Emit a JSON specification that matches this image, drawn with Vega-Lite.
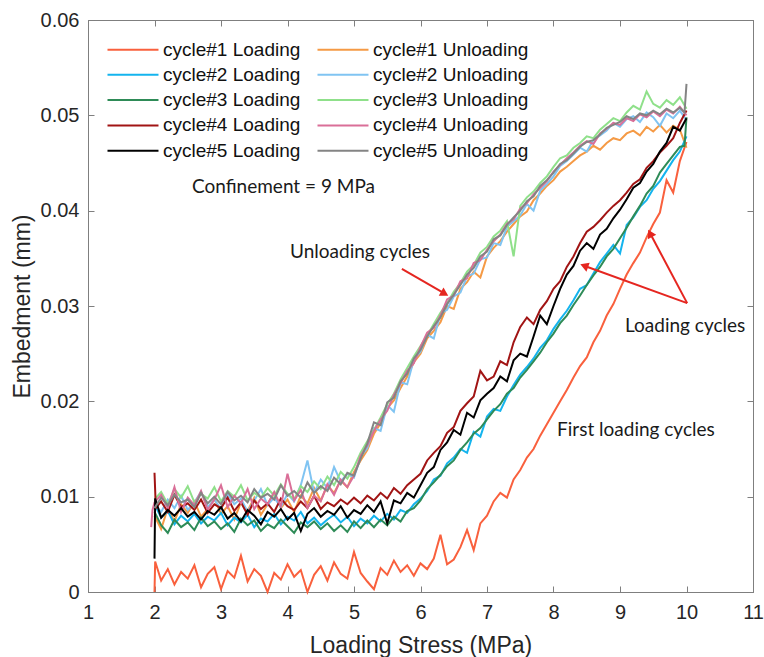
{
  "$schema": "https://vega.github.io/schema/vega-lite/v6.json",
  "width": 665,
  "height": 572,
  "autosize": {"type": "none"},
  "padding": {"left": 88, "top": 20, "right": 11, "bottom": 65},
  "background": "white",
  "config": {
    "font": "Liberation Sans",
    "view": {"stroke": "#7f7f7f", "strokeWidth": 1},
    "axis": {"labelFont": "Liberation Sans", "titleFont": "Liberation Sans", "grid": false}
  },
  "datasets": {
    "c1L": [{"x":2.0,"y":0},{"x":2.01,"y":0.0032},{"x":2.1,"y":0.0012},{"x":2.2,"y":0.0024},{"x":2.3,"y":0.0008},{"x":2.4,"y":0.0021},{"x":2.5,"y":0.0014},{"x":2.6,"y":0.0028},{"x":2.7,"y":0.0005},{"x":2.8,"y":0.0019},{"x":2.9,"y":0.0026},{"x":3.0,"y":0.0003},{"x":3.1,"y":0.0022},{"x":3.2,"y":0.0015},{"x":3.3,"y":0.0038},{"x":3.4,"y":0.0011},{"x":3.5,"y":0.0024},{"x":3.6,"y":0.0017},{"x":3.7,"y":0},{"x":3.8,"y":0.002},{"x":3.9,"y":0.0013},{"x":4.0,"y":0.0029},{"x":4.1,"y":0.0016},{"x":4.2,"y":0.0023},{"x":4.3,"y":0},{"x":4.4,"y":0.0018},{"x":4.5,"y":0.0027},{"x":4.6,"y":0.0012},{"x":4.7,"y":0.0031},{"x":4.8,"y":0.0019},{"x":4.9,"y":0.0014},{"x":5.0,"y":0.0042},{"x":5.1,"y":0.002},{"x":5.2,"y":0.0011},{"x":5.3,"y":0.0003},{"x":5.4,"y":0.0025},{"x":5.5,"y":0.0018},{"x":5.6,"y":0.0033},{"x":5.7,"y":0.0021},{"x":5.8,"y":0.0028},{"x":5.9,"y":0.0017},{"x":6.0,"y":0.003},{"x":6.1,"y":0.0024},{"x":6.2,"y":0.0035},{"x":6.3,"y":0.006},{"x":6.4,"y":0.0029},{"x":6.5,"y":0.0034},{"x":6.6,"y":0.0047},{"x":6.7,"y":0.0065},{"x":6.8,"y":0.0044},{"x":6.9,"y":0.0072},{"x":7.0,"y":0.008},{"x":7.1,"y":0.0095},{"x":7.2,"y":0.0104},{"x":7.3,"y":0.0099},{"x":7.4,"y":0.0118},{"x":7.5,"y":0.0128},{"x":7.6,"y":0.0141},{"x":7.7,"y":0.015},{"x":7.8,"y":0.0164},{"x":7.9,"y":0.0176},{"x":8.0,"y":0.0188},{"x":8.1,"y":0.02},{"x":8.2,"y":0.0212},{"x":8.3,"y":0.0225},{"x":8.4,"y":0.0237},{"x":8.5,"y":0.0246},{"x":8.6,"y":0.0262},{"x":8.7,"y":0.0274},{"x":8.8,"y":0.029},{"x":8.9,"y":0.0302},{"x":9.0,"y":0.0318},{"x":9.1,"y":0.0333},{"x":9.2,"y":0.0345},{"x":9.3,"y":0.0356},{"x":9.4,"y":0.0372},{"x":9.5,"y":0.0386},{"x":9.6,"y":0.0398},{"x":9.7,"y":0.0432},{"x":9.8,"y":0.0419},{"x":9.9,"y":0.0452},{"x":10.0,"y":0.0472}],
    "c1U": [{"x":2.0,"y":0.008},{"x":2.1,"y":0.0066},{"x":2.2,"y":0.0088},{"x":2.3,"y":0.0074},{"x":2.4,"y":0.0092},{"x":2.5,"y":0.0083},{"x":2.6,"y":0.0095},{"x":2.7,"y":0.0079},{"x":2.8,"y":0.0087},{"x":2.9,"y":0.0098},{"x":3.0,"y":0.0082},{"x":3.1,"y":0.009},{"x":3.2,"y":0.0076},{"x":3.3,"y":0.0094},{"x":3.4,"y":0.0085},{"x":3.5,"y":0.0099},{"x":3.6,"y":0.0081},{"x":3.7,"y":0.0092},{"x":3.8,"y":0.0104},{"x":3.9,"y":0.0088},{"x":4.0,"y":0.0097},{"x":4.1,"y":0.0084},{"x":4.2,"y":0.0101},{"x":4.3,"y":0.0093},{"x":4.4,"y":0.0109},{"x":4.5,"y":0.0096},{"x":4.6,"y":0.0112},{"x":4.7,"y":0.0104},{"x":4.8,"y":0.0117},{"x":4.9,"y":0.011},{"x":5.0,"y":0.0126},{"x":5.1,"y":0.0138},{"x":5.2,"y":0.0149},{"x":5.3,"y":0.0166},{"x":5.4,"y":0.0177},{"x":5.5,"y":0.0193},{"x":5.6,"y":0.0201},{"x":5.7,"y":0.0214},{"x":5.8,"y":0.0226},{"x":5.9,"y":0.0241},{"x":6.0,"y":0.025},{"x":6.1,"y":0.0266},{"x":6.2,"y":0.0274},{"x":6.3,"y":0.0283},{"x":6.4,"y":0.03},{"x":6.5,"y":0.0297},{"x":6.6,"y":0.0318},{"x":6.7,"y":0.0325},{"x":6.8,"y":0.0336},{"x":6.9,"y":0.033},{"x":7.0,"y":0.0352},{"x":7.1,"y":0.0361},{"x":7.2,"y":0.0368},{"x":7.3,"y":0.0378},{"x":7.4,"y":0.0386},{"x":7.5,"y":0.0394},{"x":7.6,"y":0.0399},{"x":7.7,"y":0.0411},{"x":7.8,"y":0.0418},{"x":7.9,"y":0.0426},{"x":8.0,"y":0.0432},{"x":8.1,"y":0.0441},{"x":8.2,"y":0.0446},{"x":8.3,"y":0.0452},{"x":8.4,"y":0.0458},{"x":8.5,"y":0.0462},{"x":8.6,"y":0.0468},{"x":8.7,"y":0.0464},{"x":8.8,"y":0.0471},{"x":8.9,"y":0.0476},{"x":9.0,"y":0.0474},{"x":9.1,"y":0.0481},{"x":9.2,"y":0.0484},{"x":9.3,"y":0.0479},{"x":9.4,"y":0.0488},{"x":9.5,"y":0.0483},{"x":9.6,"y":0.049},{"x":9.7,"y":0.0482},{"x":9.8,"y":0.0489},{"x":9.9,"y":0.0485},{"x":10.0,"y":0.0466}],
    "c2L": [{"x":2.0,"y":0.0092},{"x":2.1,"y":0.0078},{"x":2.2,"y":0.0085},{"x":2.3,"y":0.0071},{"x":2.4,"y":0.008},{"x":2.5,"y":0.0074},{"x":2.6,"y":0.0082},{"x":2.7,"y":0.0072},{"x":2.8,"y":0.0079},{"x":2.9,"y":0.0075},{"x":3.0,"y":0.0083},{"x":3.1,"y":0.007},{"x":3.2,"y":0.0078},{"x":3.3,"y":0.0073},{"x":3.4,"y":0.0081},{"x":3.5,"y":0.0068},{"x":3.6,"y":0.0077},{"x":3.7,"y":0.0074},{"x":3.8,"y":0.0082},{"x":3.9,"y":0.0071},{"x":4.0,"y":0.0079},{"x":4.1,"y":0.0075},{"x":4.2,"y":0.0084},{"x":4.3,"y":0.0072},{"x":4.4,"y":0.0078},{"x":4.5,"y":0.007},{"x":4.6,"y":0.0076},{"x":4.7,"y":0.0081},{"x":4.8,"y":0.0073},{"x":4.9,"y":0.0079},{"x":5.0,"y":0.0069},{"x":5.1,"y":0.0077},{"x":5.2,"y":0.0072},{"x":5.3,"y":0.008},{"x":5.4,"y":0.0074},{"x":5.5,"y":0.0082},{"x":5.6,"y":0.0076},{"x":5.7,"y":0.0086},{"x":5.8,"y":0.0083},{"x":5.9,"y":0.0092},{"x":6.0,"y":0.0098},{"x":6.1,"y":0.0106},{"x":6.2,"y":0.0118},{"x":6.3,"y":0.0122},{"x":6.4,"y":0.0135},{"x":6.5,"y":0.0141},{"x":6.6,"y":0.015},{"x":6.7,"y":0.0146},{"x":6.8,"y":0.0168},{"x":6.9,"y":0.0163},{"x":7.0,"y":0.0184},{"x":7.1,"y":0.0192},{"x":7.2,"y":0.019},{"x":7.3,"y":0.0205},{"x":7.4,"y":0.0217},{"x":7.5,"y":0.0228},{"x":7.6,"y":0.0236},{"x":7.7,"y":0.0245},{"x":7.8,"y":0.0256},{"x":7.9,"y":0.0264},{"x":8.0,"y":0.0276},{"x":8.1,"y":0.0286},{"x":8.2,"y":0.0295},{"x":8.3,"y":0.0306},{"x":8.4,"y":0.0318},{"x":8.5,"y":0.0322},{"x":8.6,"y":0.0334},{"x":8.7,"y":0.0346},{"x":8.8,"y":0.0355},{"x":8.9,"y":0.0364},{"x":9.0,"y":0.0355},{"x":9.1,"y":0.0385},{"x":9.2,"y":0.0393},{"x":9.3,"y":0.0404},{"x":9.4,"y":0.0411},{"x":9.5,"y":0.0423},{"x":9.6,"y":0.0431},{"x":9.7,"y":0.0442},{"x":9.8,"y":0.0453},{"x":9.9,"y":0.0462},{"x":10.0,"y":0.0478}],
    "c2U": [{"x":2.0,"y":0.0092},{"x":2.1,"y":0.0084},{"x":2.2,"y":0.0097},{"x":2.3,"y":0.0088},{"x":2.4,"y":0.0101},{"x":2.5,"y":0.0086},{"x":2.6,"y":0.0094},{"x":2.7,"y":0.0105},{"x":2.8,"y":0.0089},{"x":2.9,"y":0.0097},{"x":3.0,"y":0.0087},{"x":3.1,"y":0.0103},{"x":3.2,"y":0.0092},{"x":3.3,"y":0.0098},{"x":3.4,"y":0.0084},{"x":3.5,"y":0.0096},{"x":3.6,"y":0.0108},{"x":3.7,"y":0.0091},{"x":3.8,"y":0.0099},{"x":3.9,"y":0.0089},{"x":4.0,"y":0.0103},{"x":4.1,"y":0.0095},{"x":4.2,"y":0.0112},{"x":4.3,"y":0.0138},{"x":4.4,"y":0.0104},{"x":4.5,"y":0.0118},{"x":4.6,"y":0.0109},{"x":4.7,"y":0.0131},{"x":4.8,"y":0.0116},{"x":4.9,"y":0.0124},{"x":5.0,"y":0.012},{"x":5.1,"y":0.0142},{"x":5.2,"y":0.0151},{"x":5.3,"y":0.0172},{"x":5.4,"y":0.0169},{"x":5.5,"y":0.0196},{"x":5.6,"y":0.0189},{"x":5.7,"y":0.022},{"x":5.8,"y":0.0218},{"x":5.9,"y":0.0244},{"x":6.0,"y":0.0252},{"x":6.1,"y":0.027},{"x":6.2,"y":0.0266},{"x":6.3,"y":0.0292},{"x":6.4,"y":0.0296},{"x":6.5,"y":0.031},{"x":6.6,"y":0.0314},{"x":6.7,"y":0.0331},{"x":6.8,"y":0.0334},{"x":6.9,"y":0.0349},{"x":7.0,"y":0.0351},{"x":7.1,"y":0.0366},{"x":7.2,"y":0.0364},{"x":7.3,"y":0.0383},{"x":7.4,"y":0.0389},{"x":7.5,"y":0.0395},{"x":7.6,"y":0.0407},{"x":7.7,"y":0.04},{"x":7.8,"y":0.0421},{"x":7.9,"y":0.0428},{"x":8.0,"y":0.0436},{"x":8.1,"y":0.0447},{"x":8.2,"y":0.0452},{"x":8.3,"y":0.0459},{"x":8.4,"y":0.0466},{"x":8.5,"y":0.0462},{"x":8.6,"y":0.0474},{"x":8.7,"y":0.0479},{"x":8.8,"y":0.0484},{"x":8.9,"y":0.0492},{"x":9.0,"y":0.0488},{"x":9.1,"y":0.0496},{"x":9.2,"y":0.0499},{"x":9.3,"y":0.0493},{"x":9.4,"y":0.0503},{"x":9.5,"y":0.0498},{"x":9.6,"y":0.0489},{"x":9.7,"y":0.0502},{"x":9.8,"y":0.0497},{"x":9.9,"y":0.0505},{"x":10.0,"y":0.0495}],
    "c3L": [{"x":2.0,"y":0.0084},{"x":2.1,"y":0.007},{"x":2.2,"y":0.0062},{"x":2.3,"y":0.0076},{"x":2.4,"y":0.0068},{"x":2.5,"y":0.0073},{"x":2.6,"y":0.0065},{"x":2.7,"y":0.0078},{"x":2.8,"y":0.0069},{"x":2.9,"y":0.0074},{"x":3.0,"y":0.0066},{"x":3.1,"y":0.0072},{"x":3.2,"y":0.0063},{"x":3.3,"y":0.0077},{"x":3.4,"y":0.007},{"x":3.5,"y":0.0075},{"x":3.6,"y":0.0064},{"x":3.7,"y":0.0071},{"x":3.8,"y":0.0067},{"x":3.9,"y":0.0076},{"x":4.0,"y":0.0069},{"x":4.1,"y":0.0062},{"x":4.2,"y":0.0073},{"x":4.3,"y":0.0068},{"x":4.4,"y":0.0074},{"x":4.5,"y":0.0066},{"x":4.6,"y":0.0072},{"x":4.7,"y":0.0064},{"x":4.8,"y":0.007},{"x":4.9,"y":0.0063},{"x":5.0,"y":0.0074},{"x":5.1,"y":0.0067},{"x":5.2,"y":0.0075},{"x":5.3,"y":0.0068},{"x":5.4,"y":0.0076},{"x":5.5,"y":0.007},{"x":5.6,"y":0.0079},{"x":5.7,"y":0.0074},{"x":5.8,"y":0.0085},{"x":5.9,"y":0.0088},{"x":6.0,"y":0.0096},{"x":6.1,"y":0.0108},{"x":6.2,"y":0.0115},{"x":6.3,"y":0.0123},{"x":6.4,"y":0.0132},{"x":6.5,"y":0.0138},{"x":6.6,"y":0.0149},{"x":6.7,"y":0.0157},{"x":6.8,"y":0.0166},{"x":6.9,"y":0.0172},{"x":7.0,"y":0.0181},{"x":7.1,"y":0.019},{"x":7.2,"y":0.0197},{"x":7.3,"y":0.0208},{"x":7.4,"y":0.0214},{"x":7.5,"y":0.0225},{"x":7.6,"y":0.0233},{"x":7.7,"y":0.0242},{"x":7.8,"y":0.0251},{"x":7.9,"y":0.0262},{"x":8.0,"y":0.0271},{"x":8.1,"y":0.0282},{"x":8.2,"y":0.029},{"x":8.3,"y":0.0301},{"x":8.4,"y":0.0311},{"x":8.5,"y":0.0322},{"x":8.6,"y":0.0332},{"x":8.7,"y":0.0341},{"x":8.8,"y":0.0352},{"x":8.9,"y":0.036},{"x":9.0,"y":0.0371},{"x":9.1,"y":0.0382},{"x":9.2,"y":0.0394},{"x":9.3,"y":0.0405},{"x":9.4,"y":0.0418},{"x":9.5,"y":0.0426},{"x":9.6,"y":0.044},{"x":9.7,"y":0.0449},{"x":9.8,"y":0.0458},{"x":9.9,"y":0.0467},{"x":9.97,"y":0.0468},{"x":10.0,"y":0.0498}],
    "c3U": [{"x":2.0,"y":0.0097},{"x":2.1,"y":0.0105},{"x":2.2,"y":0.0092},{"x":2.3,"y":0.0108},{"x":2.4,"y":0.0099},{"x":2.5,"y":0.0111},{"x":2.6,"y":0.0094},{"x":2.7,"y":0.0103},{"x":2.8,"y":0.0098},{"x":2.9,"y":0.011},{"x":3.0,"y":0.0095},{"x":3.1,"y":0.0106},{"x":3.2,"y":0.01},{"x":3.3,"y":0.0112},{"x":3.4,"y":0.0096},{"x":3.5,"y":0.0104},{"x":3.6,"y":0.0099},{"x":3.7,"y":0.0109},{"x":3.8,"y":0.0101},{"x":3.9,"y":0.0113},{"x":4.0,"y":0.0103},{"x":4.1,"y":0.0097},{"x":4.2,"y":0.0111},{"x":4.3,"y":0.0105},{"x":4.4,"y":0.0116},{"x":4.5,"y":0.0108},{"x":4.6,"y":0.0121},{"x":4.7,"y":0.0112},{"x":4.8,"y":0.0126},{"x":4.9,"y":0.0119},{"x":5.0,"y":0.0131},{"x":5.1,"y":0.0146},{"x":5.2,"y":0.0158},{"x":5.3,"y":0.017},{"x":5.4,"y":0.0183},{"x":5.5,"y":0.0197},{"x":5.6,"y":0.0208},{"x":5.7,"y":0.0223},{"x":5.8,"y":0.0235},{"x":5.9,"y":0.0247},{"x":6.0,"y":0.0258},{"x":6.1,"y":0.0269},{"x":6.2,"y":0.0281},{"x":6.3,"y":0.0293},{"x":6.4,"y":0.0303},{"x":6.5,"y":0.0315},{"x":6.6,"y":0.0324},{"x":6.7,"y":0.0336},{"x":6.8,"y":0.0343},{"x":6.9,"y":0.0356},{"x":7.0,"y":0.0362},{"x":7.1,"y":0.0373},{"x":7.2,"y":0.0379},{"x":7.3,"y":0.0389},{"x":7.4,"y":0.0352},{"x":7.5,"y":0.0405},{"x":7.6,"y":0.0414},{"x":7.7,"y":0.042},{"x":7.8,"y":0.0429},{"x":7.9,"y":0.0436},{"x":8.0,"y":0.0446},{"x":8.1,"y":0.0455},{"x":8.2,"y":0.0458},{"x":8.3,"y":0.0466},{"x":8.4,"y":0.0471},{"x":8.5,"y":0.0478},{"x":8.6,"y":0.0476},{"x":8.7,"y":0.0485},{"x":8.8,"y":0.0491},{"x":8.9,"y":0.0497},{"x":9.0,"y":0.0494},{"x":9.1,"y":0.0503},{"x":9.2,"y":0.051},{"x":9.3,"y":0.0506},{"x":9.4,"y":0.0525},{"x":9.5,"y":0.0512},{"x":9.6,"y":0.0508},{"x":9.7,"y":0.0516},{"x":9.8,"y":0.0511},{"x":9.9,"y":0.0519},{"x":10.0,"y":0.0507}],
    "c4L": [{"x":2.0,"y":0.0125},{"x":2.02,"y":0.0088},{"x":2.1,"y":0.0095},{"x":2.2,"y":0.0084},{"x":2.3,"y":0.0102},{"x":2.4,"y":0.0089},{"x":2.5,"y":0.0093},{"x":2.6,"y":0.0086},{"x":2.7,"y":0.0097},{"x":2.8,"y":0.0083},{"x":2.9,"y":0.0092},{"x":3.0,"y":0.0088},{"x":3.1,"y":0.0099},{"x":3.2,"y":0.0085},{"x":3.3,"y":0.0094},{"x":3.4,"y":0.0081},{"x":3.5,"y":0.0096},{"x":3.6,"y":0.0087},{"x":3.7,"y":0.0093},{"x":3.8,"y":0.0084},{"x":3.9,"y":0.0098},{"x":4.0,"y":0.009},{"x":4.1,"y":0.0086},{"x":4.2,"y":0.0095},{"x":4.3,"y":0.0088},{"x":4.4,"y":0.0101},{"x":4.5,"y":0.0087},{"x":4.6,"y":0.0094},{"x":4.7,"y":0.009},{"x":4.8,"y":0.0097},{"x":4.9,"y":0.0092},{"x":5.0,"y":0.0099},{"x":5.1,"y":0.0093},{"x":5.2,"y":0.0101},{"x":5.3,"y":0.0096},{"x":5.4,"y":0.0104},{"x":5.5,"y":0.0098},{"x":5.6,"y":0.0109},{"x":5.7,"y":0.0103},{"x":5.8,"y":0.0112},{"x":5.9,"y":0.0118},{"x":6.0,"y":0.0124},{"x":6.1,"y":0.0138},{"x":6.2,"y":0.0146},{"x":6.3,"y":0.0153},{"x":6.4,"y":0.0167},{"x":6.5,"y":0.0173},{"x":6.6,"y":0.019},{"x":6.7,"y":0.0198},{"x":6.8,"y":0.0205},{"x":6.9,"y":0.0232},{"x":7.0,"y":0.0222},{"x":7.1,"y":0.0226},{"x":7.2,"y":0.0242},{"x":7.3,"y":0.0238},{"x":7.4,"y":0.0262},{"x":7.5,"y":0.0278},{"x":7.6,"y":0.0288},{"x":7.7,"y":0.0281},{"x":7.8,"y":0.0296},{"x":7.9,"y":0.0305},{"x":8.0,"y":0.0318},{"x":8.1,"y":0.0326},{"x":8.2,"y":0.0341},{"x":8.3,"y":0.0352},{"x":8.4,"y":0.0366},{"x":8.5,"y":0.0378},{"x":8.6,"y":0.0383},{"x":8.7,"y":0.039},{"x":8.8,"y":0.0398},{"x":8.9,"y":0.0405},{"x":9.0,"y":0.0411},{"x":9.1,"y":0.0419},{"x":9.2,"y":0.0428},{"x":9.3,"y":0.0433},{"x":9.4,"y":0.0445},{"x":9.5,"y":0.0452},{"x":9.6,"y":0.0461},{"x":9.7,"y":0.0468},{"x":9.8,"y":0.0476},{"x":9.9,"y":0.0492},{"x":10.0,"y":0.0505}],
    "c4U": [{"x":1.95,"y":0.0068},{"x":1.97,"y":0.0086},{"x":2.0,"y":0.0094},{"x":2.1,"y":0.0102},{"x":2.2,"y":0.0088},{"x":2.3,"y":0.011},{"x":2.4,"y":0.0084},{"x":2.5,"y":0.0099},{"x":2.6,"y":0.0091},{"x":2.7,"y":0.0106},{"x":2.8,"y":0.0086},{"x":2.9,"y":0.0097},{"x":3.0,"y":0.0112},{"x":3.1,"y":0.0089},{"x":3.2,"y":0.0101},{"x":3.3,"y":0.0093},{"x":3.4,"y":0.0108},{"x":3.5,"y":0.0087},{"x":3.6,"y":0.0098},{"x":3.7,"y":0.0092},{"x":3.8,"y":0.0105},{"x":3.9,"y":0.009},{"x":4.0,"y":0.0124},{"x":4.1,"y":0.0096},{"x":4.2,"y":0.0107},{"x":4.3,"y":0.0088},{"x":4.4,"y":0.0101},{"x":4.5,"y":0.0095},{"x":4.6,"y":0.0113},{"x":4.7,"y":0.0102},{"x":4.8,"y":0.0118},{"x":4.9,"y":0.011},{"x":5.0,"y":0.0122},{"x":5.1,"y":0.0143},{"x":5.2,"y":0.0154},{"x":5.3,"y":0.0169},{"x":5.4,"y":0.0181},{"x":5.5,"y":0.019},{"x":5.6,"y":0.0207},{"x":5.7,"y":0.0219},{"x":5.8,"y":0.0232},{"x":5.9,"y":0.024},{"x":6.0,"y":0.0257},{"x":6.1,"y":0.0272},{"x":6.2,"y":0.0277},{"x":6.3,"y":0.029},{"x":6.4,"y":0.0307},{"x":6.5,"y":0.0311},{"x":6.6,"y":0.0326},{"x":6.7,"y":0.0329},{"x":6.8,"y":0.0345},{"x":6.9,"y":0.0348},{"x":7.0,"y":0.0359},{"x":7.1,"y":0.0368},{"x":7.2,"y":0.0375},{"x":7.3,"y":0.0386},{"x":7.4,"y":0.0391},{"x":7.5,"y":0.0402},{"x":7.6,"y":0.0408},{"x":7.7,"y":0.0417},{"x":7.8,"y":0.0424},{"x":7.9,"y":0.0431},{"x":8.0,"y":0.0441},{"x":8.1,"y":0.0448},{"x":8.2,"y":0.0455},{"x":8.3,"y":0.0461},{"x":8.4,"y":0.0468},{"x":8.5,"y":0.0473},{"x":8.6,"y":0.047},{"x":8.7,"y":0.0481},{"x":8.8,"y":0.0486},{"x":8.9,"y":0.0492},{"x":9.0,"y":0.049},{"x":9.1,"y":0.0497},{"x":9.2,"y":0.0494},{"x":9.3,"y":0.0501},{"x":9.4,"y":0.0498},{"x":9.5,"y":0.0504},{"x":9.6,"y":0.0499},{"x":9.7,"y":0.0506},{"x":9.8,"y":0.0502},{"x":9.9,"y":0.0509},{"x":10.0,"y":0.05}],
    "c5L": [{"x":2.0,"y":0.0035},{"x":2.01,"y":0.0098},{"x":2.1,"y":0.0078},{"x":2.2,"y":0.0086},{"x":2.3,"y":0.008},{"x":2.4,"y":0.0088},{"x":2.5,"y":0.0079},{"x":2.6,"y":0.0084},{"x":2.7,"y":0.0076},{"x":2.8,"y":0.0085},{"x":2.9,"y":0.0081},{"x":3.0,"y":0.0089},{"x":3.1,"y":0.0077},{"x":3.2,"y":0.0083},{"x":3.3,"y":0.0074},{"x":3.4,"y":0.0086},{"x":3.5,"y":0.008},{"x":3.6,"y":0.0071},{"x":3.7,"y":0.0084},{"x":3.8,"y":0.0079},{"x":3.9,"y":0.0087},{"x":4.0,"y":0.0076},{"x":4.1,"y":0.0083},{"x":4.2,"y":0.0064},{"x":4.3,"y":0.0082},{"x":4.4,"y":0.0088},{"x":4.5,"y":0.0079},{"x":4.6,"y":0.0085},{"x":4.7,"y":0.0081},{"x":4.8,"y":0.009},{"x":4.9,"y":0.0078},{"x":5.0,"y":0.0086},{"x":5.1,"y":0.0082},{"x":5.2,"y":0.0091},{"x":5.3,"y":0.0084},{"x":5.4,"y":0.0095},{"x":5.5,"y":0.0072},{"x":5.6,"y":0.0096},{"x":5.7,"y":0.0093},{"x":5.8,"y":0.0104},{"x":5.9,"y":0.0099},{"x":6.0,"y":0.0112},{"x":6.1,"y":0.0125},{"x":6.2,"y":0.0131},{"x":6.3,"y":0.0149},{"x":6.4,"y":0.0157},{"x":6.5,"y":0.017},{"x":6.6,"y":0.0165},{"x":6.7,"y":0.0188},{"x":6.8,"y":0.0183},{"x":6.9,"y":0.0201},{"x":7.0,"y":0.0208},{"x":7.1,"y":0.0214},{"x":7.2,"y":0.0226},{"x":7.3,"y":0.0221},{"x":7.4,"y":0.0243},{"x":7.5,"y":0.025},{"x":7.6,"y":0.0247},{"x":7.7,"y":0.0268},{"x":7.8,"y":0.029},{"x":7.9,"y":0.0281},{"x":8.0,"y":0.03},{"x":8.1,"y":0.0318},{"x":8.2,"y":0.0333},{"x":8.3,"y":0.0342},{"x":8.4,"y":0.0358},{"x":8.5,"y":0.0366},{"x":8.6,"y":0.036},{"x":8.7,"y":0.0375},{"x":8.8,"y":0.0381},{"x":8.9,"y":0.0392},{"x":9.0,"y":0.0401},{"x":9.1,"y":0.0412},{"x":9.2,"y":0.0424},{"x":9.3,"y":0.0429},{"x":9.4,"y":0.0441},{"x":9.5,"y":0.0449},{"x":9.6,"y":0.0462},{"x":9.7,"y":0.0471},{"x":9.8,"y":0.0488},{"x":9.9,"y":0.0484},{"x":10.0,"y":0.0497}],
    "c5U": [{"x":2.0,"y":0.0088},{"x":2.1,"y":0.0099},{"x":2.2,"y":0.0091},{"x":2.3,"y":0.0102},{"x":2.4,"y":0.0094},{"x":2.5,"y":0.0097},{"x":2.6,"y":0.0089},{"x":2.7,"y":0.0104},{"x":2.8,"y":0.0093},{"x":2.9,"y":0.01},{"x":3.0,"y":0.0092},{"x":3.1,"y":0.0105},{"x":3.2,"y":0.0096},{"x":3.3,"y":0.0101},{"x":3.4,"y":0.0094},{"x":3.5,"y":0.0108},{"x":3.6,"y":0.0099},{"x":3.7,"y":0.0103},{"x":3.8,"y":0.0097},{"x":3.9,"y":0.0112},{"x":4.0,"y":0.0101},{"x":4.1,"y":0.0106},{"x":4.2,"y":0.0099},{"x":4.3,"y":0.0115},{"x":4.4,"y":0.0104},{"x":4.5,"y":0.0111},{"x":4.6,"y":0.0106},{"x":4.7,"y":0.012},{"x":4.8,"y":0.0113},{"x":4.9,"y":0.0125},{"x":5.0,"y":0.0122},{"x":5.1,"y":0.014},{"x":5.2,"y":0.0156},{"x":5.3,"y":0.0178},{"x":5.4,"y":0.0175},{"x":5.5,"y":0.0199},{"x":5.6,"y":0.0204},{"x":5.7,"y":0.0221},{"x":5.8,"y":0.0229},{"x":5.9,"y":0.0245},{"x":6.0,"y":0.0254},{"x":6.1,"y":0.0268},{"x":6.2,"y":0.0279},{"x":6.3,"y":0.0288},{"x":6.4,"y":0.0302},{"x":6.5,"y":0.0312},{"x":6.6,"y":0.0322},{"x":6.7,"y":0.0333},{"x":6.8,"y":0.034},{"x":6.9,"y":0.0352},{"x":7.0,"y":0.0357},{"x":7.1,"y":0.037},{"x":7.2,"y":0.0374},{"x":7.3,"y":0.0385},{"x":7.4,"y":0.0393},{"x":7.5,"y":0.04},{"x":7.6,"y":0.041},{"x":7.7,"y":0.0415},{"x":7.8,"y":0.0426},{"x":7.9,"y":0.0432},{"x":8.0,"y":0.044},{"x":8.1,"y":0.0449},{"x":8.2,"y":0.0453},{"x":8.3,"y":0.046},{"x":8.4,"y":0.0467},{"x":8.5,"y":0.0472},{"x":8.6,"y":0.0474},{"x":8.7,"y":0.048},{"x":8.8,"y":0.0487},{"x":8.9,"y":0.049},{"x":9.0,"y":0.0493},{"x":9.1,"y":0.0499},{"x":9.2,"y":0.0496},{"x":9.3,"y":0.0502},{"x":9.4,"y":0.05},{"x":9.5,"y":0.0505},{"x":9.6,"y":0.0501},{"x":9.7,"y":0.0507},{"x":9.8,"y":0.0503},{"x":9.9,"y":0.0508},{"x":9.97,"y":0.0503},{"x":10.0,"y":0.0533}],
    "arrows": [
      {"x": 5.72, "y": 0.0339, "x2": 6.346, "y2": 0.03137},
      {"x": 10.01, "y": 0.0303, "x2": 8.481, "y2": 0.03417},
      {"x": 10.01, "y": 0.0303, "x2": 9.462, "y2": 0.0375}
    ],
    "notes": [
      {"x": 2.564, "y": 0.04248, "t": "Confinement = 9 MPa"},
      {"x": 4.038, "y": 0.03567, "t": "Unloading cycles"},
      {"x": 9.075, "y": 0.0279, "t": "Loading cycles"},
      {"x": 8.053, "y": 0.017, "t": "First loading cycles"}
    ]
  },
  "layer": [
    {
      "encoding": {
        "x": {
          "field": "x", "type": "quantitative",
          "scale": {"domain": [1, 11], "nice": false, "zero": false},
          "axis": {
            "title": "Loading Stress (MPa)",
            "values": [1, 2, 3, 4, 5, 6, 7, 8, 9, 10, 11],
            "format": "d",
            "tickSize": -6, "tickColor": "#7f7f7f", "domainColor": "#7f7f7f",
            "labelFontSize": 20, "labelColor": "#262626", "labelPadding": 16,
            "labelFlush": false, "labelOverlap": false,
            "titleFontSize": 23, "titleFontWeight": "normal", "titleColor": "#262626",
            "titleY": 53, "titleBaseline": "middle"
          }
        },
        "y": {
          "field": "y", "type": "quantitative",
          "scale": {"domain": [0, 0.06], "nice": false},
          "axis": {
            "title": "Embedment (mm)",
            "values": [0, 0.01, 0.02, 0.03, 0.04, 0.05, 0.06],
            "format": ".2~f",
            "tickSize": -6, "tickColor": "#7f7f7f", "domainColor": "#7f7f7f",
            "labelFontSize": 20, "labelColor": "#262626", "labelPadding": 15,
            "labelFlush": false, "labelOverlap": false,
            "titleFontSize": 23, "titleFontWeight": "normal", "titleColor": "#262626",
            "titleX": -66, "titleY": 286, "titleBaseline": "middle"
          }
        }
      },
      "layer": [
        {"data": {"name": "c1L"}, "mark": {"type": "line", "strokeWidth": 2},
         "encoding": {"color": {"datum": "cycle#1 Loading", "type": "nominal",
           "scale": {
             "domain": ["cycle#1 Loading", "cycle#2 Loading", "cycle#3 Loading", "cycle#4 Loading", "cycle#5 Loading", "cycle#1 Unloading", "cycle#2 Unloading", "cycle#3 Unloading", "cycle#4 Unloading", "cycle#5 Unloading"],
             "range": ["#F9603D", "#14B4EE", "#2E8B57", "#A11414", "#000000", "#F59A45", "#80C4F2", "#8FE08A", "#DA6F98", "#848484"]
           },
           "legend": {
             "title": null, "orient": "none", "legendX": 10, "legendY": 20,
             "columns": 2, "columnPadding": 7, "rowPadding": 5.3, "padding": 0,
             "symbolType": "M0,0H10", "symbolSize": 104, "symbolStrokeWidth": 2,
             "labelFont": "Liberation Sans", "labelFontSize": 19, "labelColor": "#111111",
             "labelOffset": 46, "labelLimit": 300
           }}}},
        {"data": {"name": "c1U"}, "mark": {"type": "line", "strokeWidth": 2}, "encoding": {"color": {"datum": "cycle#1 Unloading", "type": "nominal"}}},
        {"data": {"name": "c2L"}, "mark": {"type": "line", "strokeWidth": 2}, "encoding": {"color": {"datum": "cycle#2 Loading", "type": "nominal"}}},
        {"data": {"name": "c2U"}, "mark": {"type": "line", "strokeWidth": 2}, "encoding": {"color": {"datum": "cycle#2 Unloading", "type": "nominal"}}},
        {"data": {"name": "c3L"}, "mark": {"type": "line", "strokeWidth": 2}, "encoding": {"color": {"datum": "cycle#3 Loading", "type": "nominal"}}},
        {"data": {"name": "c3U"}, "mark": {"type": "line", "strokeWidth": 2}, "encoding": {"color": {"datum": "cycle#3 Unloading", "type": "nominal"}}},
        {"data": {"name": "c4L"}, "mark": {"type": "line", "strokeWidth": 2}, "encoding": {"color": {"datum": "cycle#4 Loading", "type": "nominal"}}},
        {"data": {"name": "c4U"}, "mark": {"type": "line", "strokeWidth": 2}, "encoding": {"color": {"datum": "cycle#4 Unloading", "type": "nominal"}}},
        {"data": {"name": "c5L"}, "mark": {"type": "line", "strokeWidth": 2}, "encoding": {"color": {"datum": "cycle#5 Loading", "type": "nominal"}}},
        {"data": {"name": "c5U"}, "mark": {"type": "line", "strokeWidth": 2}, "encoding": {"color": {"datum": "cycle#5 Unloading", "type": "nominal"}}},
        {"data": {"name": "arrows"}, "mark": {"type": "rule", "color": "#E52620", "strokeWidth": 2},
         "encoding": {"x2": {"field": "x2"}, "y2": {"field": "y2"}}},
        {"data": {"values": [{"x": 6.346, "y": 0.03137}]},
         "mark": {"type": "point", "shape": "triangle", "filled": true, "opacity": 1, "size": 90, "angle": 120, "color": "#E52620"}},
        {"data": {"values": [{"x": 8.481, "y": 0.03417}]},
         "mark": {"type": "point", "shape": "triangle", "filled": true, "opacity": 1, "size": 90, "angle": 290, "color": "#E52620"}},
        {"data": {"values": [{"x": 9.462, "y": 0.0375}]},
         "mark": {"type": "point", "shape": "triangle", "filled": true, "opacity": 1, "size": 90, "angle": 332, "color": "#E52620"}}
      ]
    },
    {
      "data": {"name": "notes"},
      "mark": {"type": "text", "align": "left", "baseline": "middle", "font": "Lato", "fontSize": 19, "color": "#1a1a1a"},
      "encoding": {
        "x": {"field": "x", "type": "quantitative", "scale": {"domain": [1, 11], "nice": false, "zero": false},
          "axis": {"orient": "top", "labels": false, "title": null, "values": [1, 2, 3, 4, 5, 6, 7, 8, 9, 10, 11], "tickSize": -6, "tickColor": "#7f7f7f", "domainColor": "#7f7f7f"}},
        "y": {"field": "y", "type": "quantitative", "scale": {"domain": [0, 0.06], "nice": false},
          "axis": {"orient": "right", "labels": false, "title": null, "values": [0, 0.01, 0.02, 0.03, 0.04, 0.05, 0.06], "tickSize": -6, "tickColor": "#7f7f7f", "domainColor": "#7f7f7f"}},
        "text": {"field": "t", "type": "nominal"}
      }
    }
  ],
  "resolve": {"axis": {"x": "independent", "y": "independent"}}
}
